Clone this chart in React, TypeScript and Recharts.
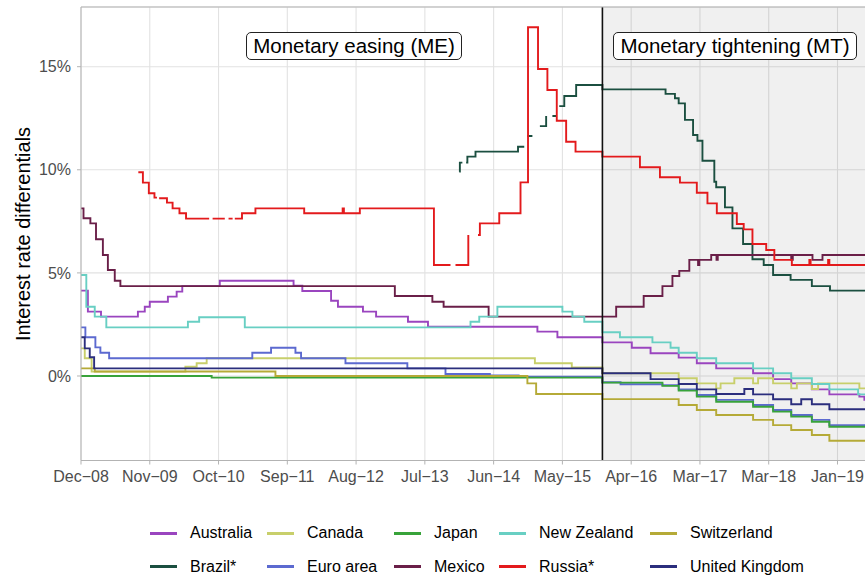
import React from "react";
import {
  LineChart,
  Line,
  XAxis,
  YAxis,
  CartesianGrid,
  ReferenceArea,
  ReferenceLine,
} from "recharts";

type Pt = [number, number | null];

// x = months since Dec-08, y = interest rate differential (%)
const countries = [
  "Australia",
  "Brazil*",
  "Canada",
  "Euro area",
  "Japan",
  "Mexico",
  "New Zealand",
  "Russia*",
  "Switzerland",
  "United Kingdom",
];

const xTickMonths = [0, 11, 22, 33, 44, 55, 66, 77, 88, 99, 110, 121];
const xTickLabels = [
  "Dec−08", "Nov−09", "Oct−10", "Sep−11", "Aug−12", "Jul−13",
  "Jun−14", "May−15", "Apr−16", "Mar−17", "Mar−18", "Jan−19",
];
const yTicks = [0, 5, 10, 15];
const yTickLabels = ["0%", "5%", "10%", "15%"];

const regimeSplit = 83.4;
const xMax = 127;
const yMin = -4.098;
const yMax = 17.895;

const australia: Pt[] = [
  [0, 4.14], [1.1, 3.12], [3.2, 2.88], [9.1, 3.12], [10.2, 3.36], [11.0, 3.6],
  [13.9, 3.85], [15.3, 4.09], [16.2, 4.36], [22.2, 4.62], [34.0, 4.38], [35.4, 4.12],
  [40.0, 3.65], [41.1, 3.36], [45.1, 3.12], [47.2, 2.88], [52.3, 2.63], [55.5, 2.39],
  [73.0, 2.15], [76.2, 1.88], [83.4, 1.63], [88.1, 1.37], [91.1, 1.1], [95.6, 0.89],
  [98.5, 0.62], [101.6, 0.37], [107.5, 0.13], [110.7, -0.15], [113.6, -0.36],
  [116.9, -0.65], [119.7, -0.89], [124.5, -1.0], [125.3, -1.16], [127, -1.16],
];

const brazil: Pt[] = [
  [60.5, 9.91], [60.6, 10.35], [61.0, 10.35], [61.3, null],
  [61.6, 10.35], [61.8, 10.64], [63.1, 10.88], [69.9, 11.12], [70.9, 11.12], [71.1, null],
  [71.4, 11.64], [72.2, 11.64], [72.8, null],
  [73.4, 12.12], [74.4, 12.61], [74.9, null],
  [75.4, 12.61], [76.0, 12.61], [76.2, null],
  [76.5, 13.09], [77.3, 13.58], [79.2, 14.11], [83.4, 13.9], [93.5, 13.68], [95.0, 13.47],
  [95.6, 13.22], [96.6, 12.42], [97.9, 11.69], [98.6, 11.41], [99.4, 10.44], [101.3, 9.42],
  [101.6, 9.15], [103.0, 8.18], [104.2, 7.16], [105.9, 6.4], [107.4, 5.66], [109.2, 5.38],
  [110.7, 4.9], [113.5, 4.66], [116.9, 4.36], [119.8, 4.14], [127, 4.14],
];

const canada: Pt[] = [
  [0, 1.34], [0.6, 0.86], [1.7, 0.21], [16.7, 0.45], [18.5, 0.62], [20.1, 0.86],
  [72.6, 0.62], [78.5, 0.42], [83.4, 0.13], [95.6, -0.11], [98.5, -0.36], [101.6, -0.6],
  [102.3, -0.36], [104.5, -0.11], [107.5, -0.36], [108.3, -0.11], [110.7, -0.36],
  [113.6, -0.6], [114.5, -0.36], [116.9, -0.63], [117.9, -0.36], [124.5, -0.6], [127, -0.6],
];

const euroArea: Pt[] = [
  [0, 2.36], [0.7, 1.88], [2.3, 1.39], [3.1, 1.13], [4.5, 0.86], [27.4, 1.13],
  [30.4, 1.37], [34.3, 1.13], [35.2, 0.86], [42.3, 0.62], [52.2, 0.37], [58.3, 0.1],
  [65.4, 0.03], [70.0, -0.04], [83.4, -0.3], [86.3, -0.4], [93.0, -0.45], [95.6, -0.65],
  [98.5, -0.92], [101.6, -1.16], [107.5, -1.41], [110.7, -1.65], [113.6, -1.89],
  [116.9, -2.13], [119.7, -2.38], [127, -2.38],
];

const japan: Pt[] = [
  [0, 0.0], [20.9, -0.08], [83.4, -0.32], [93.0, -0.48], [95.6, -0.71], [98.5, -1.0],
  [101.6, -1.25], [107.5, -1.49], [110.7, -1.73], [113.6, -1.97], [116.9, -2.22],
  [119.7, -2.46], [127, -2.46],
];

const mexico: Pt[] = [
  [0, 8.13], [0.4, 7.65], [1.5, 7.4], [2.4, 6.63], [3.5, 5.87], [4.3, 5.14],
  [5.4, 4.62], [6.3, 4.36], [50.2, 3.88], [56.2, 3.6], [58.0, 3.36], [65.2, 2.88],
  [85.6, 3.36], [90.0, 3.88], [93.0, 4.36], [94.6, 4.85], [95.7, 5.1], [97.3, 5.63],
  [98.7, 5.38], [98.9, 5.63], [100.8, 5.87], [101.65, 5.63], [101.85, 5.87],
  [113.6, 5.63], [113.85, 5.87], [117.0, 5.63], [118.6, 5.87], [127, 5.87],
];

const newZealand: Pt[] = [
  [0, 4.9], [0.85, 3.36], [2.2, 2.88], [4.05, 2.36], [17.1, 2.63], [18.9, 2.85],
  [26.2, 2.36], [62.3, 2.63], [63.7, 2.88], [66.6, 3.36], [77.0, 3.12], [78.6, 2.88],
  [80.5, 2.63], [83.4, 2.12], [86.2, 1.88], [91.4, 1.63], [94.3, 1.37], [95.6, 1.13],
  [98.5, 0.86], [101.6, 0.62], [107.5, 0.37], [110.7, 0.13], [113.6, -0.11],
  [116.9, -0.39], [119.7, -0.65], [124.3, -0.89], [127, -0.89],
];

const russia: Pt[] = [
  [9.17, 9.88], [9.9, 9.38], [10.85, 8.86], [11.75, 8.65], [12.15, 8.65], [12.3, null],
  [12.5, 8.62], [13.75, 8.41], [14.65, 8.13], [15.75, 7.89], [16.8, 7.63], [20.5, 7.63], [20.8, null],
  [21.05, 7.63], [23.0, 7.63], [23.3, null],
  [23.6, 7.63], [24.25, 7.63], [24.4, null],
  [24.6, 7.63], [25.75, 7.89], [27.9, 8.13], [35.7, 7.89], [41.85, 8.13], [42.05, 7.89],
  [44.6, 8.13], [56.45, 5.38], [59.1, 5.38], [59.5, null],
  [59.9, 5.38], [61.95, 6.84], [62.7, null],
  [63.5, 6.84], [63.8, 7.4], [66.9, 7.89], [70.3, 9.39], [71.5, 16.91], [73.1, 14.89],
  [74.6, 13.87], [76.1, 12.38], [77.6, 11.36], [79.1, 10.88], [83.4, 10.64], [89.4, 10.12],
  [92.6, 9.64], [95.8, 9.38], [98.5, 8.89], [100.2, 8.37], [101.7, 7.89], [104.9, 7.37],
  [106.0, 7.11], [107.4, 6.4], [109.6, 6.11], [110.9, 5.63], [113.7, 5.38], [116.5, 5.63],
  [116.7, 5.38], [119.5, 5.63], [119.7, 5.38], [125.6, 5.14], [127, 5.14],
];

const switzerland: Pt[] = [
  [0, 0.37], [2.2, 0.22], [31.1, 0.0], [71.4, -0.36], [72.8, -0.87], [83.4, -1.12],
  [95.6, -1.41], [98.5, -1.65], [101.6, -1.89], [107.5, -2.13], [110.7, -2.38],
  [113.6, -2.62], [116.9, -2.86], [119.7, -3.14], [127, -3.14],
];

const unitedKingdom: Pt[] = [
  [0, 1.88], [0.6, 1.34], [1.4, 0.91], [2.1, 0.37], [83.4, 0.13], [91.1, -0.15],
  [95.6, -0.39], [98.5, -0.65], [101.6, -0.87], [106.1, -0.63], [107.5, -0.89],
  [110.7, -1.13], [113.6, -1.37], [115.2, -1.13], [116.9, -1.37], [119.7, -1.61], [127, -1.61],
];

const seriesValues: Pt[][] = [
  australia, brazil, canada, euroArea, japan, mexico, newZealand, russia, switzerland, unitedKingdom,
];

const seriesColors = [
  "#9a45bf", "#1b4f40", "#c8cf6b", "#5c6ad0", "#38a33a",
  "#6a1f48", "#68cfc3", "#e31a1c", "#b5aa37", "#2b2e7d",
];

const series = countries.map((name, i) => ({
  name,
  color: seriesColors[i],
  rows: seriesValues[i].map(([m, v]) => ({ m, v })),
}));

const FONT = '"Liberation Sans", Arial, Helvetica, sans-serif';

// legend layout: column positions (text left), two rows
const legendCols = [190, 307, 434, 539, 690];
const legendRows = [533.3, 566.7];

const labelBox: React.CSSProperties = {
  position: "absolute",
  top: 32,
  height: 28,
  boxSizing: "border-box",
  border: "1px solid #222",
  borderRadius: 5,
  background: "#fff",
  fontSize: 20.5,
  color: "#000",
  display: "flex",
  alignItems: "center",
  justifyContent: "center",
  whiteSpace: "nowrap",
};

export default function App() {
  return (
    <div
      style={{
        position: "absolute",
        left: 0,
        top: 0,
        width: 865,
        height: 576,
        overflow: "hidden",
        background: "#fff",
        fontFamily: FONT,
      }}
    >
      <LineChart
        width={875}
        height={500}
        margin={{ top: 7, right: 0, bottom: 0, left: 0 }}
        style={{ fontFamily: FONT }}
      >
        <CartesianGrid stroke="#e2e2e2" strokeWidth={1.1} />
        <XAxis
          type="number"
          dataKey="m"
          domain={[0, xMax]}
          allowDataOverflow
          ticks={xTickMonths}
          interval={0}
          tickFormatter={(v: number) => xTickLabels[xTickMonths.indexOf(v)] ?? ""}
          height={39.5}
          tickSize={4}
          tickMargin={6}
          stroke="#b3b3b3"
          tick={{ fill: "#4d4d4d", fontSize: 16 }}
        />
        <YAxis
          type="number"
          domain={[yMin, yMax]}
          allowDataOverflow
          ticks={yTicks}
          interval={0}
          tickFormatter={(v: number) => yTickLabels[yTicks.indexOf(v)] ?? ""}
          width={81}
          tickSize={4}
          tickMargin={6}
          stroke="#b3b3b3"
          tick={{ fill: "#4d4d4d", fontSize: 16 }}
        />
        <ReferenceArea
          x1={regimeSplit}
          x2={xMax}
          fill="#000"
          fillOpacity={0.06}
          stroke="none"
          ifOverflow="hidden"
        />
        {series.map((s) => (
          <Line
            key={s.name}
            data={s.rows}
            dataKey="v"
            name={s.name}
            type="stepAfter"
            stroke={s.color}
            strokeWidth={1.9}
            dot={false}
            activeDot={false}
            connectNulls={false}
            isAnimationActive={false}
          />
        ))}
        <ReferenceLine x={regimeSplit} stroke="#111" strokeWidth={1.6} />
        <ReferenceLine y={yMax} stroke="#b3b3b3" strokeWidth={1} />
      </LineChart>

      <div
        style={{
          position: "absolute",
          left: 23,
          top: 234,
          transform: "translate(-50%, -50%) rotate(-90deg)",
          fontSize: 20,
          lineHeight: "20px",
          whiteSpace: "nowrap",
          color: "#000",
        }}
      >
        Interest rate differentials
      </div>

      <div style={{ ...labelBox, left: 246, width: 216 }}>Monetary easing (ME)</div>
      <div style={{ ...labelBox, left: 613, width: 244 }}>Monetary tightening (MT)</div>

      {series.map((s, i) => {
        const col = Math.floor(i / 2);
        const row = i % 2;
        const tx = legendCols[col];
        const cy = legendRows[row];
        return (
          <div key={s.name}>
            <div
              style={{
                position: "absolute",
                left: tx - 40,
                top: cy - 1.5,
                width: 27,
                height: 3,
                background: s.color,
              }}
            />
            <div
              style={{
                position: "absolute",
                left: tx,
                top: cy - 10,
                height: 20,
                lineHeight: "20px",
                fontSize: 16,
                color: "#000",
                whiteSpace: "nowrap",
              }}
            >
              {s.name}
            </div>
          </div>
        );
      })}
    </div>
  );
}
